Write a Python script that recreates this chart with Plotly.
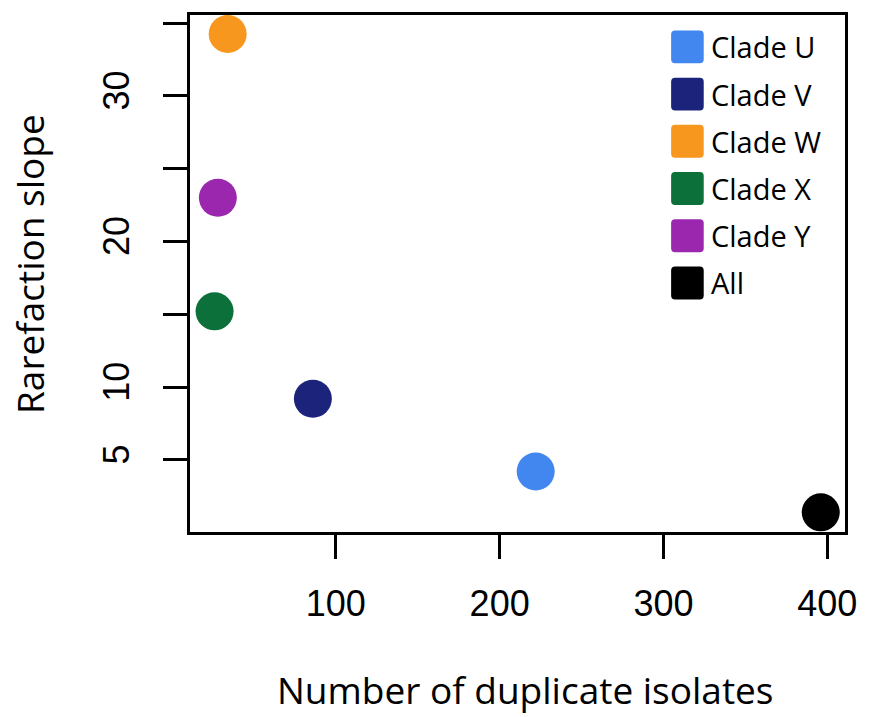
import plotly.graph_objects as go

# Rarefaction slope versus number of duplicate isolates, per clade
groups = ["Clade U", "Clade V", "Clade W", "Clade X", "Clade Y", "All"]
duplicates = [222, 86, 34, 26, 28, 396]
slopes = [4.2, 9.2, 34.25, 15.2, 23.0, 1.4]
colors = ["#4287EF", "#1B237B", "#F7971E", "#0B7039", "#9B27AF", "#000000"]

y_ticks = [5, 10, 15, 20, 25, 30, 35]
y_tick_text = ["5", "10", "", "20", "", "30", ""]
x_ticks = [100, 200, 300, 400]
x_title = "Number of duplicate isolates"
y_title = "Rarefaction slope"

fig = go.Figure()
for name, x, y, c in zip(groups, duplicates, slopes, colors):
    fig.add_trace(go.Scatter(
        x=[x], y=[y], mode="markers", name=name,
        marker=dict(size=38, color=c, line=dict(width=0)),
        showlegend=False,
    ))

W, H = 869, 717
ML, MR, MT, MB = 190, 16, 13, 185
leg_x0, leg_y0, leg_step, sq = 677, 45, 47.4, 33


def px(xp):
    return (xp - ML) / (W - ML - MR)


def py(yp):
    return 1 - (yp - MT) / (H - MT - MB)


title_font = dict(family="Open Sans", size=37, color="black")
shapes = []
annotations = [
    dict(x=px(530), y=py(690), xref="paper", yref="paper", text=x_title,
         showarrow=False, xanchor="center", yanchor="middle", font=title_font),
    dict(x=px(27), y=py(263), xref="paper", yref="paper", text=y_title,
         showarrow=False, xanchor="center", yanchor="middle", textangle=-90,
         font=title_font),
]

# legend: rounded colour squares with labels
for i, (name, c) in enumerate(zip(groups, colors)):
    cy = leg_y0 + i * leg_step
    x0, x1 = leg_x0, leg_x0 + sq
    y0, y1 = cy - sq / 2, cy + sq / 2
    r = 4
    path = (
        f"M {px(x0 + r)},{py(y0)} L {px(x1 - r)},{py(y0)} "
        f"Q {px(x1)},{py(y0)} {px(x1)},{py(y0 + r)} "
        f"L {px(x1)},{py(y1 - r)} Q {px(x1)},{py(y1)} {px(x1 - r)},{py(y1)} "
        f"L {px(x0 + r)},{py(y1)} Q {px(x0)},{py(y1)} {px(x0)},{py(y1 - r)} "
        f"L {px(x0)},{py(y0 + r)} Q {px(x0)},{py(y0)} {px(x0 + r)},{py(y0)} Z"
    )
    shapes.append(dict(type="path", xref="paper", yref="paper", path=path,
                       fillcolor=c, line=dict(width=0)))
    annotations.append(dict(
        x=px(x1 + 5), y=py(cy), xref="paper", yref="paper",
        text=name, showarrow=False, xanchor="left", yanchor="middle",
        font=dict(family="Open Sans", size=29, color="black"),
    ))

fig.update_layout(
    width=W, height=H,
    margin=dict(l=ML, r=MR, t=MT, b=MB),
    paper_bgcolor="white", plot_bgcolor="white",
    shapes=shapes, annotations=annotations,
    showlegend=False,
)
fig.update_xaxes(
    range=[11, 410.8], tickvals=x_ticks, ticks="outside", ticklen=24, tickwidth=2.5,
    tickcolor="black", showline=True, linecolor="black", linewidth=2.5, mirror=True,
    showgrid=False, zeroline=False, ticklabelstandoff=14,
    tickfont=dict(family="Liberation Sans", size=36, color="black"),
)
fig.update_yaxes(
    range=[0.05, 35.55], tickvals=y_ticks, ticktext=y_tick_text, ticks="outside",
    ticklen=24, tickwidth=2.5, tickcolor="black", tickangle=-90,
    showline=True, linecolor="black", linewidth=2.5, mirror=True,
    showgrid=False, zeroline=False, ticklabelstandoff=20,
    tickfont=dict(family="Liberation Sans", size=36, color="black"),
)

fig.write_html("out.html")
